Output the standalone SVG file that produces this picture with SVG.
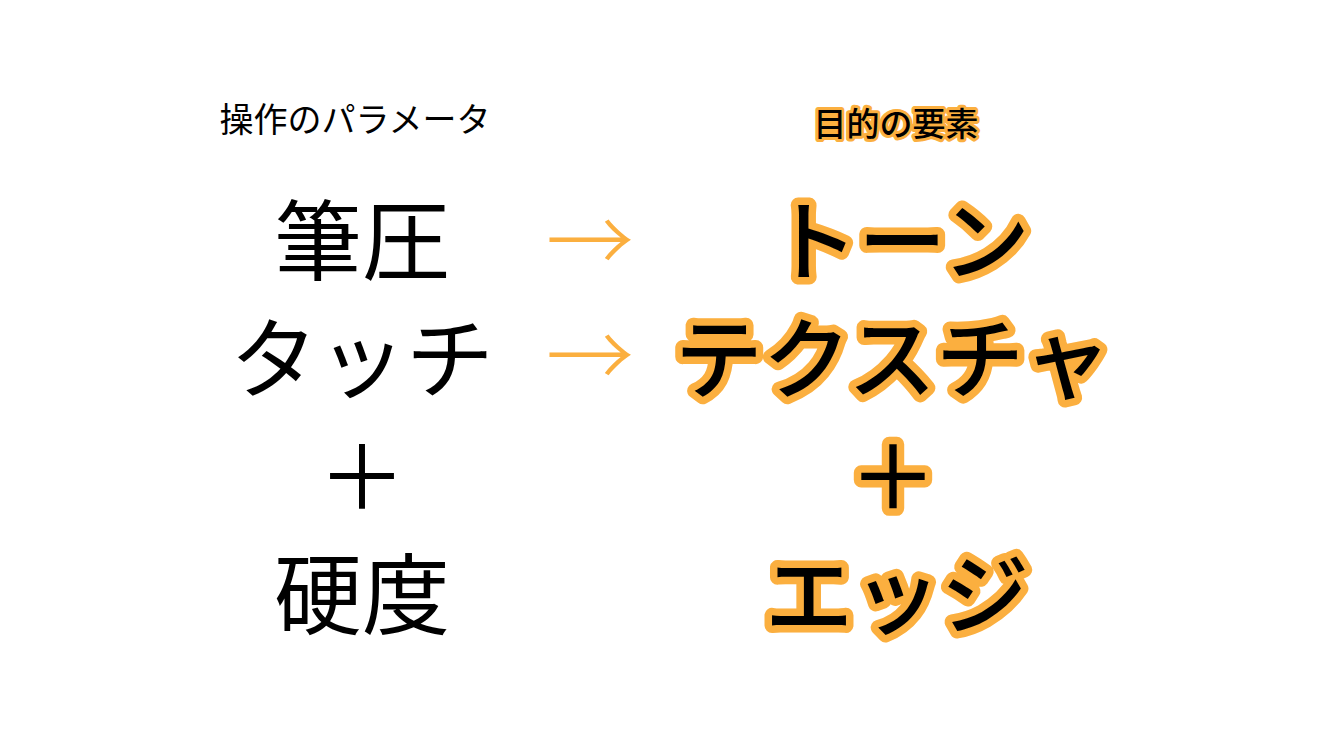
<svg xmlns="http://www.w3.org/2000/svg" width="1334" height="750" viewBox="0 0 1334 750">
<style>
text{font-family:"Noto Sans CJK JP","Noto Sans",sans-serif;text-anchor:middle}
.l{fill:#000;font-size:88px;font-weight:400}
.r{fill:#000;font-size:88px;font-weight:500;stroke:#FBAF3F;stroke-width:15;stroke-linejoin:round;paint-order:stroke}
.arrow{fill:#FBAF3F;font-size:88px;font-weight:300}
</style>
<rect width="1334" height="750" fill="#fff"/>
<g id="left-title"><text x="355" y="132" style="font-size:34px">操作のパラメータ</text></g>
<g id="right-title"><text x="896" y="136" class="r" style="font-size:33px;stroke-width:6">目的の要素</text></g>
<g id="left-1"><text x="362" y="273" class="l">筆圧</text></g>
<g id="left-2"><text x="362" y="391" class="l">タッチ</text></g>
<g id="left-3"><text x="362" y="509" class="l">＋</text></g>
<g id="left-4"><text x="362" y="627" class="l">硬度</text></g>
<g id="right-1"><text x="900" y="273" class="r">トーン</text></g>
<g id="right-2"><text x="893" y="391" class="r">テクスチャ</text></g>
<g id="right-3"><text x="893" y="509" class="r">＋</text></g>
<g id="right-4"><text x="897" y="627" class="r">エッジ</text></g>
<g id="connectors">
<text x="590" y="273" class="arrow">→</text>
<text x="590" y="388" class="arrow">→</text>
</g>
</svg>
